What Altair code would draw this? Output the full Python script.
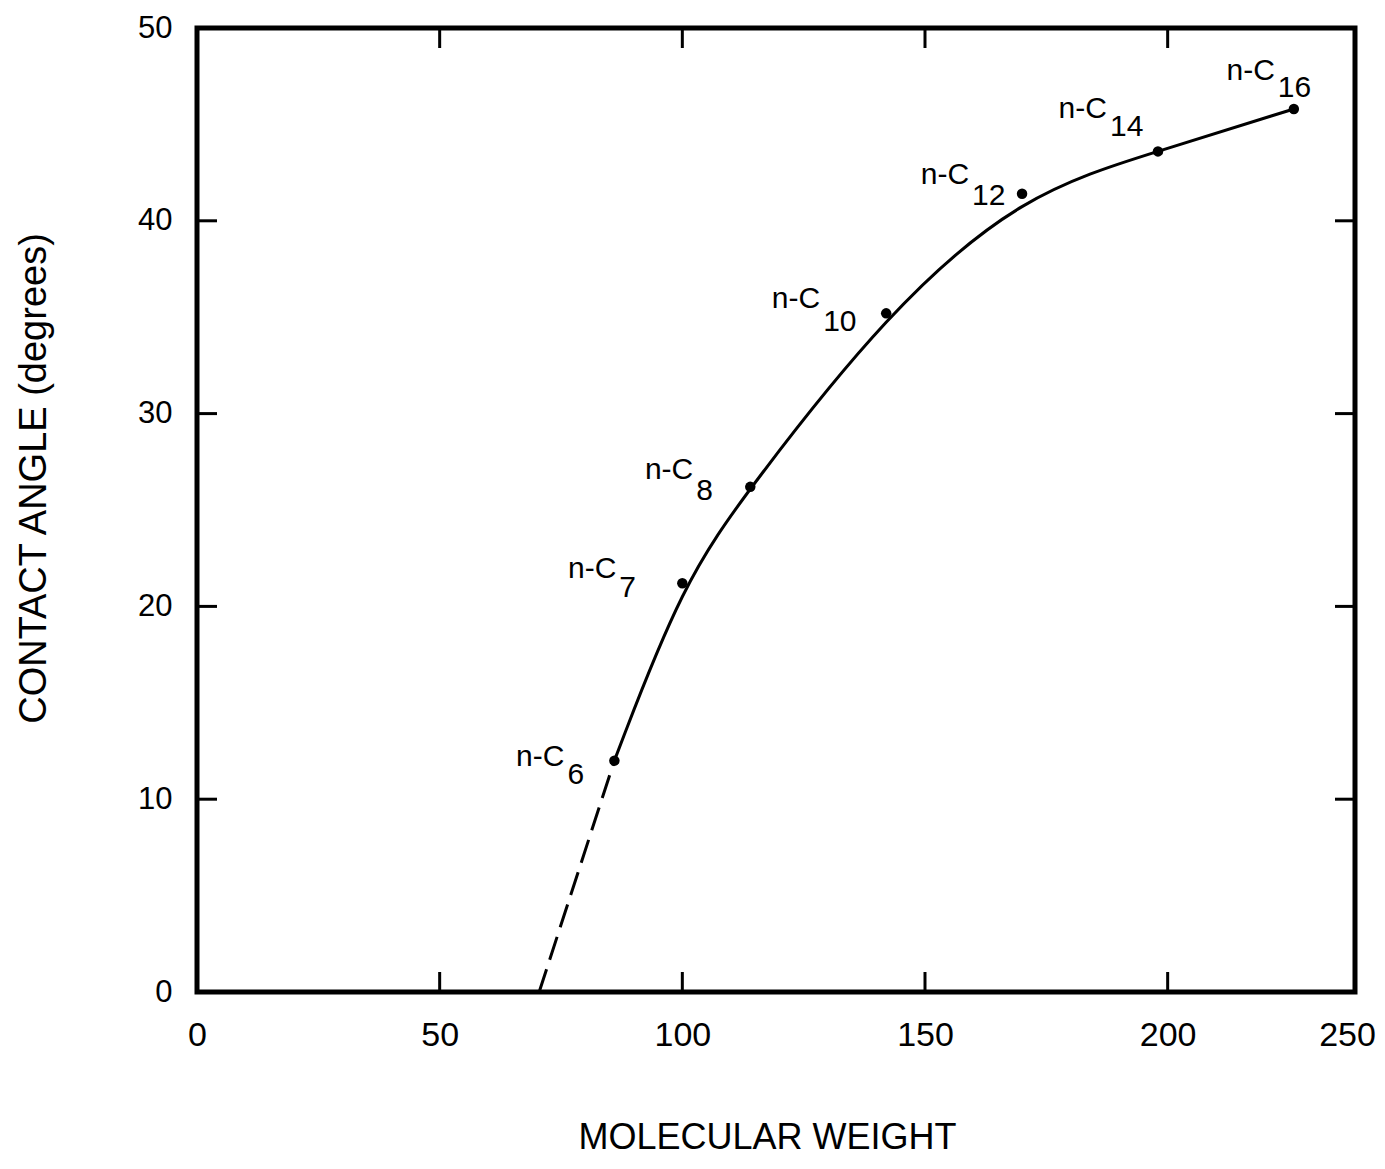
import altair as alt
import pandas as pd

# ---- data ----
alkanes = ["n-C6", "n-C7", "n-C8", "n-C10", "n-C12", "n-C14", "n-C16"]
carbon_sub = ["6", "7", "8", "10", "12", "14", "16"]
mol_weight = [86, 100, 114, 142, 170, 198, 226]
contact_angle = [12.0, 21.2, 26.2, 35.2, 41.4, 43.6, 45.8]
extrap_mw = [86, 70.5]
extrap_angle = [12.0, 0.0]
x_tick_values = [0, 50, 100, 150, 200]
x_end_value = 238.6          # right frame edge of the original figure
x_end_label = "250"
y_tick_values = [0, 10, 20, 30, 40, 50]
inner_x_ticks = [50, 100, 150, 200]
inner_y_ticks = [10, 20, 30, 40]

W, H = 1158, 964
TICK = 20
FONT = "Liberation Sans"

pts = pd.DataFrame({"name": alkanes, "sub": carbon_sub,
                    "mw": mol_weight, "angle": contact_angle})
ext = pd.DataFrame({"mw": extrap_mw, "angle": extrap_angle})
xt = pd.DataFrame({"mw": inner_x_ticks})
yt = pd.DataFrame({"angle": inner_y_ticks})

xscale = alt.Scale(domain=[0, x_end_value], nice=False, zero=False)
yscale = alt.Scale(domain=[0, 50], nice=False)

x_axis = alt.Axis(
    values=x_tick_values + [x_end_value],
    labelExpr=f"datum.value > 230 ? '{x_end_label}' : datum.label",
    labelOffset={"condition": {"test": "datum.value > 230", "value": -8}, "value": 0},
    title="MOLECULAR WEIGHT", grid=False, ticks=False, domain=False,
    labelFontSize=34, labelFont=FONT, labelColor="black", labelPadding=26,
    labelFlush=False, titleFontSize=36, titleFont=FONT, titleFontWeight="normal",
    titleColor="black", titleX=570, titleY=156, titleAlign="center",
    titleBaseline="alphabetic",
)
y_axis = alt.Axis(
    values=y_tick_values, title="CONTACT ANGLE (degrees)", grid=False,
    ticks=False, domain=False, labelFontSize=31, labelFont=FONT,
    labelColor="black", labelPadding=25, labelFlush=False,
    titleFontSize=38, titleFont=FONT, titleFontWeight="normal",
    titleColor="black", titleAngle=-90, titleX=-152, titleY=450,
    titleAlign="center", titleBaseline="alphabetic",
)


def X():
    return alt.X("mw:Q", scale=xscale, axis=x_axis, title="MOLECULAR WEIGHT")


def Y():
    return alt.Y("angle:Q", scale=yscale, axis=y_axis, title="CONTACT ANGLE (degrees)")


solid = alt.Chart(pts).mark_line(
    color="black", strokeWidth=3, interpolate="basis"
).encode(x=X(), y=Y())

dashed = alt.Chart(ext).mark_line(
    color="black", strokeWidth=3, strokeDash=[24, 10]
).encode(x=X(), y=Y())

dots = alt.Chart(pts).mark_circle(color="black", opacity=1, size=110).encode(
    x=X(), y=Y())

# inward ticks on all four sides
tick_style = dict(color="black", strokeWidth=3)
bottom_t = alt.Chart(xt).mark_rule(**tick_style).encode(
    x=X(), y=alt.value(H), y2=alt.value(H - TICK))
top_t = alt.Chart(xt).mark_rule(**tick_style).encode(
    x=X(), y=alt.value(0), y2=alt.value(TICK))
left_t = alt.Chart(yt).mark_rule(**tick_style).encode(
    y=Y(), x=alt.value(0), x2=alt.value(TICK))
right_t = alt.Chart(yt).mark_rule(**tick_style).encode(
    y=Y(), x=alt.value(W), x2=alt.value(W - TICK))

# label placement (pixel offsets from each point): junction dx, main dy, subscript dy
offsets = {
    "n-C6": (-49, 5, 23),
    "n-C7": (-65, -5, 14),
    "n-C8": (-56, -8, 13),
    "n-C10": (-65, -5, 18),
    "n-C12": (-52, -10, 11),
    "n-C14": (-50, -33, -15),
    "n-C16": (-18, -29, -12),
}
label_layers = []
for name, (dx, dy_main, dy_sub) in offsets.items():
    base = alt.Chart(pts[pts["name"] == name])
    label_layers.append(base.mark_text(
        text="n-C", align="right", baseline="alphabetic", dx=dx - 1, dy=dy_main,
        fontSize=30, font=FONT, color="black").encode(x=X(), y=Y()))
    label_layers.append(base.mark_text(
        align="left", baseline="alphabetic", dx=dx + 2, dy=dy_sub,
        fontSize=30, font=FONT, color="black").encode(text="sub:N", x=X(), y=Y()))

chart = alt.layer(
    solid, dashed, dots, bottom_t, top_t, left_t, right_t, *label_layers
).properties(
    width=W, height=H,
    padding={"left": 189, "top": 20, "right": 22, "bottom": 165},
    autosize=alt.AutoSizeParams(type="none"),
    background="white",
).configure_view(stroke="black", strokeWidth=5)

chart.save("out.html", embed_options={"renderer": "svg", "actions": False})
